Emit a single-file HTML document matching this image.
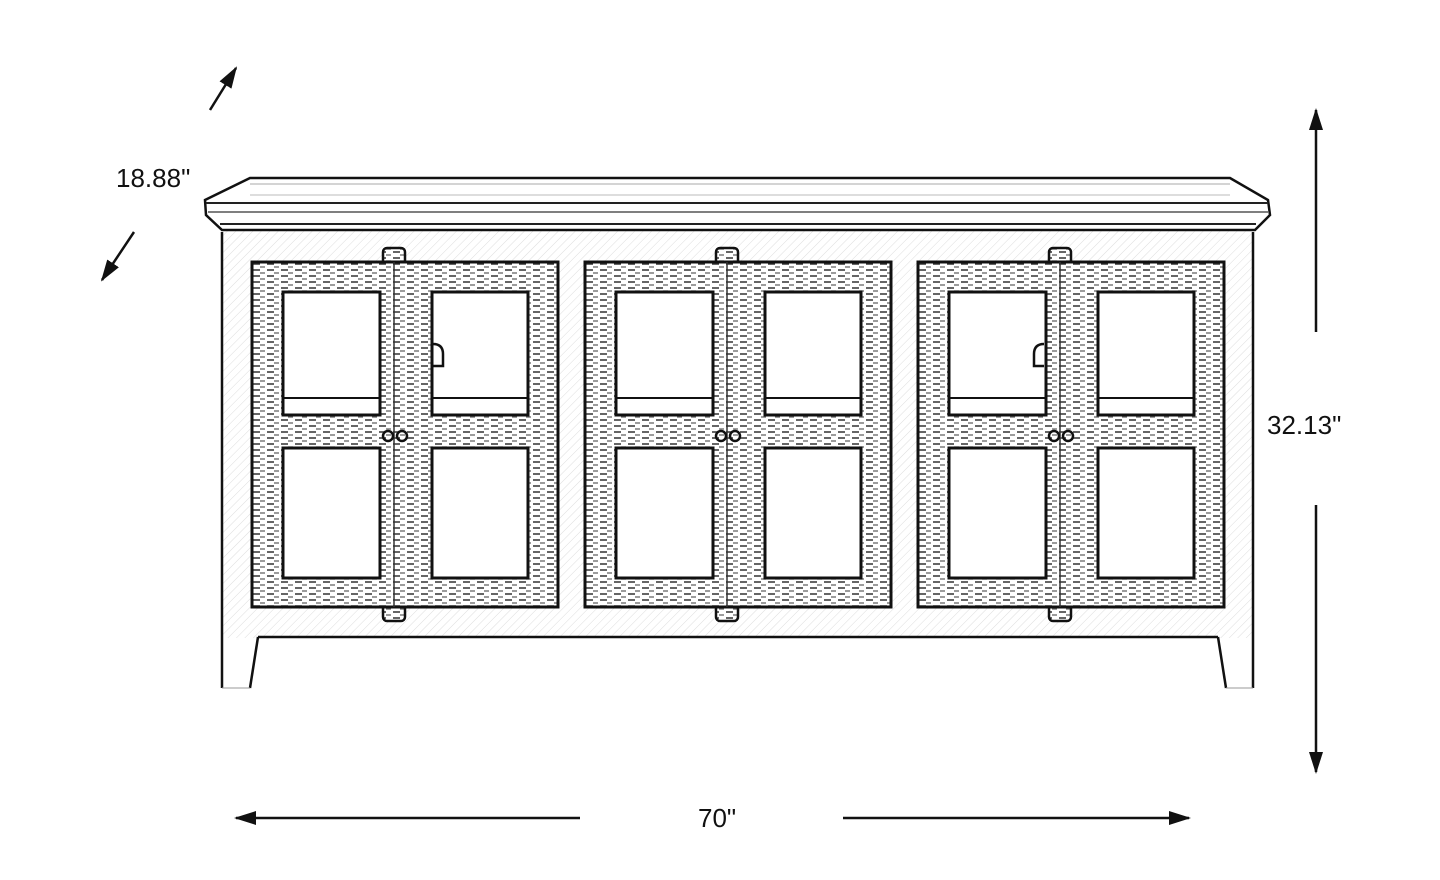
<!DOCTYPE html>
<html><head><meta charset="utf-8"><style>
html,body{margin:0;padding:0;background:#fff;width:1440px;height:880px;overflow:hidden}
text{font-family:"Liberation Sans",sans-serif;font-size:26px;fill:#111}
</style></head><body>
<svg width="1440" height="880" viewBox="0 0 1440 880" xmlns="http://www.w3.org/2000/svg">
<defs>
<pattern id="tex" width="14" height="6" patternUnits="userSpaceOnUse">
<rect width="14" height="6" fill="#fff"/>
<line x1="1" y1="2" x2="8" y2="2" stroke="#333" stroke-width="1.5"/>
<line x1="8" y1="5" x2="13" y2="5" stroke="#666" stroke-width="1.3"/>
</pattern>
<pattern id="hat" width="6" height="6" patternUnits="userSpaceOnUse" patternTransform="rotate(45)">
<line x1="0" y1="0" x2="0" y2="6" stroke="#ddd" stroke-width="1"/>
</pattern>
<marker id="ah" markerWidth="22" markerHeight="14" refX="20" refY="7" orient="auto" markerUnits="userSpaceOnUse">
<path d="M0,0 L22,7 L0,14 z" fill="#111"/>
</marker>
<g id="door">
<rect x="131" y="-14" width="22" height="373" rx="4" fill="url(#tex)" stroke="#111" stroke-width="2.5"/>
<rect x="0" y="0" width="306" height="345" fill="url(#tex)" stroke="#111" stroke-width="3"/>
<line x1="142" y1="0" x2="142" y2="345" stroke="#333" stroke-width="1.5"/>
<rect x="31" y="30" width="97" height="123" fill="#fff" stroke="#111" stroke-width="3"/>
<line x1="31" y1="136" x2="128" y2="136" stroke="#111" stroke-width="2"/>
<rect x="180" y="30" width="96" height="123" fill="#fff" stroke="#111" stroke-width="3"/>
<line x1="180" y1="136" x2="276" y2="136" stroke="#111" stroke-width="2"/>
<rect x="31" y="186" width="97" height="130" fill="#fff" stroke="#111" stroke-width="3"/>
<rect x="180" y="186" width="96" height="130" fill="#fff" stroke="#111" stroke-width="3"/>
<circle cx="136" cy="174" r="5" fill="none" stroke="#111" stroke-width="2.5"/>
<circle cx="150" cy="174" r="5" fill="none" stroke="#111" stroke-width="2.5"/>
</g>
</defs>
<rect x="222" y="228" width="1031" height="410" fill="url(#hat)"/>
<path d="M222,232 L222,688" stroke="#111" stroke-width="2.5" fill="none"/>
<path d="M1253,232 L1253,688" stroke="#111" stroke-width="2.5" fill="none"/>
<path d="M258,637 L1218,637" stroke="#111" stroke-width="2.5"/>
<path d="M258,637 L250,688" stroke="#111" stroke-width="2.5" fill="none"/>
<path d="M1218,637 L1226,688" stroke="#111" stroke-width="2.5" fill="none"/>
<line x1="222" y1="688" x2="250" y2="688" stroke="#999" stroke-width="1"/>
<line x1="1226" y1="688" x2="1253" y2="688" stroke="#999" stroke-width="1"/>
<path d="M205,200 L250,178 L1230,178 L1268,200 L1270,215 L1255,230 L222,230 L206,215 Z" fill="#fff" stroke="#111" stroke-width="2.5"/>
<line x1="206" y1="203" x2="1268" y2="203" stroke="#222" stroke-width="2"/>
<line x1="208" y1="212" x2="1268" y2="212" stroke="#555" stroke-width="1.5"/>
<line x1="220" y1="224" x2="1256" y2="224" stroke="#222" stroke-width="2"/>
<line x1="250" y1="184" x2="1230" y2="184" stroke="#aaa" stroke-width="1"/>
<line x1="250" y1="195" x2="1230" y2="195" stroke="#bbb" stroke-width="1"/>
<use href="#door" x="252" y="262"/>
<use href="#door" x="585" y="262"/>
<use href="#door" x="918" y="262"/>
<path d="M433,344 q10,0 10,10 v12 h-10" fill="none" stroke="#111" stroke-width="2.5"/>
<path d="M1044,344 q-10,0 -10,10 v12 h10" fill="none" stroke="#111" stroke-width="2.5"/>
<line x1="210" y1="110" x2="236" y2="68" stroke="#111" stroke-width="2.5" marker-end="url(#ah)"/>
<line x1="134" y1="232" x2="102" y2="280" stroke="#111" stroke-width="2.5" marker-end="url(#ah)"/>
<text x="116" y="187">18.88"</text>
<line x1="1316" y1="332" x2="1316" y2="110" stroke="#111" stroke-width="2.5" marker-end="url(#ah)"/>
<line x1="1316" y1="505" x2="1316" y2="772" stroke="#111" stroke-width="2.5" marker-end="url(#ah)"/>
<text x="1267" y="434">32.13"</text>
<line x1="580" y1="818" x2="236" y2="818" stroke="#111" stroke-width="2.5" marker-end="url(#ah)"/>
<line x1="843" y1="818" x2="1189" y2="818" stroke="#111" stroke-width="2.5" marker-end="url(#ah)"/>
<text x="698" y="827">70"</text>
</svg>
</body></html>
